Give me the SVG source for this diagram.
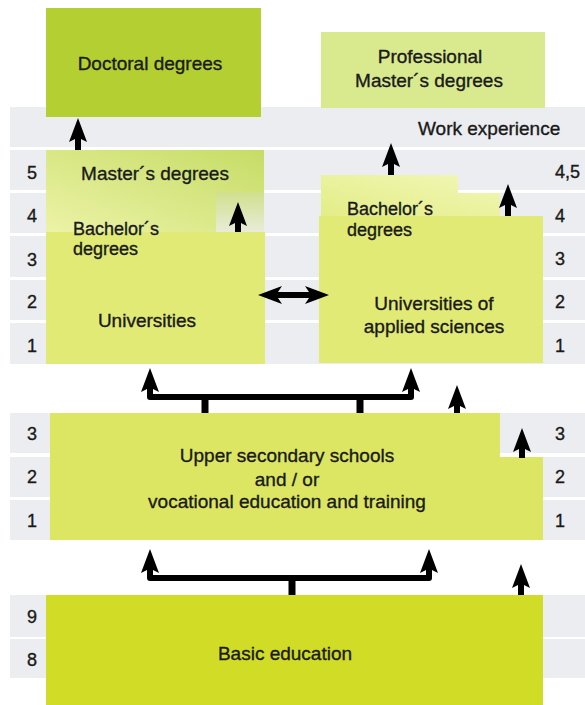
<svg xmlns="http://www.w3.org/2000/svg" width="585" height="705" viewBox="0 0 585 705">
<style>
.band{fill:#ecedf0}
.t{font-family:"Liberation Sans",Arial,sans-serif;font-size:19px;fill:#1a1a1a;stroke:#1a1a1a;stroke-width:0.35}
.s{font-size:18px}
.n{font-family:"Liberation Sans",Arial,sans-serif;font-size:18px;fill:#1a1a1a;stroke:#1a1a1a;stroke-width:0.35}
.arr{fill:#000}
.ln{fill:none;stroke:#000;stroke-width:6;stroke-linejoin:round}
.stem{stroke:#000;stroke-width:7}
</style>
<defs>
<linearGradient id="gMaster" x1="1" y1="0" x2="0" y2="1">
<stop offset="0" stop-color="#c6dc66"/>
<stop offset="1" stop-color="#ecf3a6"/>
</linearGradient>
<linearGradient id="gNotch" x1="0" y1="0" x2="0" y2="1">
<stop offset="0" stop-color="#cfe08c"/>
<stop offset="1" stop-color="#e8ecd8"/>
</linearGradient>
<linearGradient id="gUasBach" x1="1" y1="0" x2="0" y2="1">
<stop offset="0" stop-color="#f2f7b8"/>
<stop offset="1" stop-color="#e3ed86"/>
</linearGradient>
</defs>

<g id="bands">
<rect class="band" x="10" y="107" width="575" height="40"/>
<rect class="band" x="10" y="150" width="575" height="40"/>
<rect class="band" x="10" y="193" width="575" height="40"/>
<rect class="band" x="10" y="236" width="575" height="41"/>
<rect class="band" x="10" y="280" width="575" height="40"/>
<rect class="band" x="10" y="323" width="575" height="41"/>
<rect class="band" x="10" y="413" width="575" height="40"/>
<rect class="band" x="10" y="457" width="575" height="40"/>
<rect class="band" x="10" y="500" width="575" height="40"/>
<rect class="band" x="10" y="595" width="575" height="42"/>
<rect class="band" x="10" y="639" width="575" height="39"/>
</g>

<g id="level-numbers">
<text class="n" x="32" y="179" text-anchor="middle">5</text>
<text class="n" x="32" y="222" text-anchor="middle">4</text>
<text class="n" x="32" y="266" text-anchor="middle">3</text>
<text class="n" x="32" y="308" text-anchor="middle">2</text>
<text class="n" x="32" y="352" text-anchor="middle">1</text>
<text class="n" x="555" y="178">4,5</text>
<text class="n" x="555" y="222">4</text>
<text class="n" x="555" y="265">3</text>
<text class="n" x="555" y="308">2</text>
<text class="n" x="555" y="352">1</text>
<text class="n" x="32" y="440" text-anchor="middle">3</text>
<text class="n" x="32" y="483" text-anchor="middle">2</text>
<text class="n" x="32" y="527" text-anchor="middle">1</text>
<text class="n" x="555" y="440">3</text>
<text class="n" x="555" y="483">2</text>
<text class="n" x="555" y="527">1</text>
<text class="n" x="32" y="623" text-anchor="middle">9</text>
<text class="n" x="32" y="666" text-anchor="middle">8</text>
</g>

<g id="doctoral">
<rect x="46" y="8" width="215" height="109" fill="#b4cf31"/>
<text class="t" x="150" y="70" text-anchor="middle">Doctoral degrees</text>
</g>

<g id="professional-masters">
<rect x="321" y="32" width="224" height="76" fill="#d9e98e"/>
<text class="t" x="430" y="63" text-anchor="middle">Professional</text>
<text class="t" x="429" y="87" text-anchor="middle">Master´s degrees</text>
</g>

<g id="work-experience">
<text class="t" x="418" y="135">Work experience</text>
</g>

<g id="universities">
<polygon points="46,150 264,150 264,192 216,192 216,232 46,232" fill="url(#gMaster)"/>
<rect x="216" y="192" width="48" height="40" fill="url(#gNotch)"/>
<rect x="46" y="232" width="219" height="132" fill="#e1ea74"/>
<text class="t" x="155" y="180" text-anchor="middle">Master´s degrees</text>
<text class="t s" x="73" y="235">Bachelor´s</text>
<text class="t s" x="73" y="255">degrees</text>
<text class="t" x="147" y="327" text-anchor="middle">Universities</text>
</g>

<g id="universities-applied-sciences">
<polygon points="321,175 458,175 458,193 500,193 500,216 321,216" fill="url(#gUasBach)"/>
<rect x="319" y="216" width="224" height="147" fill="#e1ea74"/>
<text class="t s" x="347" y="215">Bachelor´s</text>
<text class="t s" x="347" y="236">degrees</text>
<text class="t" x="434" y="310" text-anchor="middle">Universities of</text>
<text class="t" x="434" y="333" text-anchor="middle">applied sciences</text>
</g>

<g id="upper-secondary">
<polygon points="50,413 500,413 500,457 543,457 543,540 50,540" fill="#dde663"/>
<text class="t" x="287" y="462" text-anchor="middle">Upper secondary schools</text>
<text class="t" x="287" y="486" text-anchor="middle">and / or</text>
<text class="t" x="287" y="508" text-anchor="middle">vocational education and training</text>
</g>

<g id="basic-education">
<rect x="46" y="595" width="497" height="110" fill="#d1dc27"/>
<text class="t" x="285" y="660" text-anchor="middle">Basic education</text>
</g>

<g id="connectors">
<path class="arr" d="M78,118 L87,142 L81,139 L81,150 L75,150 L75,139 L69,142 Z"/>
<path class="arr" d="M238,202 L247,226 L241,223 L241,232 L235,232 L235,223 L229,226 Z"/>
<path class="arr" d="M391,143 L400,167 L394,164 L394,175 L388,175 L388,164 L382,167 Z"/>
<path class="arr" d="M508,184 L517,208 L511,205 L511,216 L505,216 L505,205 L499,208 Z"/>
<path class="arr" d="M258,295 L282,286 L278,292 L309,292 L305,286 L329,295 L305,304 L309,298 L278,298 L282,304 Z"/>
<path class="ln" d="M150,385 V397 H411 V385"/>
<line class="stem" x1="205" y1="397" x2="205" y2="413"/>
<line class="stem" x1="360" y1="397" x2="360" y2="413"/>
<path class="arr" d="M150,368 L159,392 L153,389 L153,395 L147,395 L147,389 L141,392 Z"/>
<path class="arr" d="M411,368 L420,392 L414,389 L414,395 L408,395 L408,389 L402,392 Z"/>
<path class="arr" d="M457,385 L466,409 L460,406 L460,413 L454,413 L454,406 L448,409 Z"/>
<path class="arr" d="M522,428 L531,452 L525,449 L525,458 L519,458 L519,449 L513,452 Z"/>
<path class="ln" d="M150,566 V578 H429 V566"/>
<line class="stem" x1="292" y1="578" x2="292" y2="595"/>
<path class="arr" d="M150,549 L159,573 L153,570 L153,576 L147,576 L147,570 L141,573 Z"/>
<path class="arr" d="M429,549 L438,573 L432,570 L432,576 L426,576 L426,570 L420,573 Z"/>
<path class="arr" d="M521,564 L530,588 L524,585 L524,595 L518,595 L518,585 L512,588 Z"/>
</g>
</svg>
